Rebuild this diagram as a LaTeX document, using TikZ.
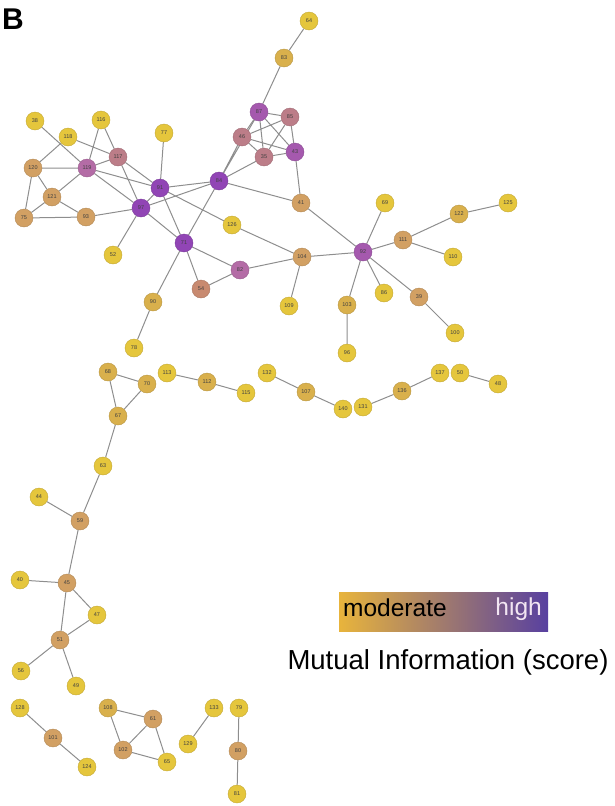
\documentclass[tikz,border=0pt]{standalone}
\usepackage{fontspec}
\setmainfont{Liberation Sans}
\usetikzlibrary{backgrounds}
\definecolor{mihigh}{HTML}{9145B5}
\definecolor{mimagenta}{HTML}{A559AE}
\definecolor{mipink}{HTML}{B46CA6}
\definecolor{mirose}{HTML}{BC7D88}
\definecolor{miclay}{HTML}{C88A70}
\definecolor{mitan}{HTML}{D2A063}
\definecolor{miochre}{HTML}{D9B04C}
\definecolor{miyellow}{HTML}{E5C63C}
\definecolor{edgegray}{HTML}{8E8E8E}
\definecolor{barlow}{HTML}{E8B43C}
\definecolor{barhigh}{HTML}{5840A0}

\begin{document}
\begin{tikzpicture}[x=1pt, y=-1pt,
    gnode/.style={circle, fill=#1, draw=#1!85!black, line width=0.4pt, minimum size=18pt,
      inner sep=0pt, font=\fontsize{5.5}{5.5}\selectfont, text=black!75},
    edge/.style={draw=edgegray, line width=1pt}]
      \useasboundingbox (0,0) rectangle (614,806);

      % Panel letter
      \node[anchor=base west, inner sep=0pt, font=\fontsize{30}{30}\selectfont\bfseries] (panel) at (2,29) {B};

      % Main component, upper cluster
      \node[gnode=miyellow] (v64) at (309,21) {64};
      \node[gnode=miochre] (v83) at (284,58) {83};
      \node[gnode=mimagenta] (v87) at (259,112) {87};
      \node[gnode=mirose] (v85) at (290,117) {85};
      \node[gnode=mirose] (v46) at (242,137) {46};
      \node[gnode=mirose] (v35) at (264,157) {35};
      \node[gnode=mimagenta] (v43) at (295,152) {43};
      \node[gnode=mihigh] (v84) at (219,181) {84};
      \node[gnode=mihigh] (v91) at (160,188) {91};
      \node[gnode=mihigh] (v97) at (141,208) {97};
      \node[gnode=mihigh] (v71) at (184,243) {71};
      \node[gnode=miyellow] (v38) at (35,121) {38};
      \node[gnode=miyellow] (v118) at (68,137) {118};
      \node[gnode=miyellow] (v116) at (101,120) {116};
      \node[gnode=miyellow] (v77) at (164,133) {77};
      \node[gnode=mirose] (v117) at (118,157) {117};
      \node[gnode=mitan] (v120) at (33,168) {120};
      \node[gnode=mipink] (v119) at (87,168) {119};
      \node[gnode=mitan] (v121) at (52,197) {121};
      \node[gnode=mitan] (v75) at (24,218) {75};
      \node[gnode=mitan] (v93) at (86,217) {93};
      \node[gnode=miyellow] (v126) at (232,225) {126};
      \node[gnode=miyellow] (v52) at (113,255) {52};
      \node[gnode=mitan] (v41) at (301,203) {41};
      \node[gnode=mitan] (v104) at (302,257) {104};
      \node[gnode=mipink] (v82) at (240,270) {82};
      \node[gnode=miclay] (v54) at (201,289) {54};
      \node[gnode=miyellow] (v109) at (289,306) {109};
      \node[gnode=mimagenta] (v92) at (363,252) {92};
      \node[gnode=miyellow] (v69) at (385,203) {69};
      \node[gnode=mitan] (v111) at (403,240) {111};
      \node[gnode=miochre] (v122) at (459,214) {122};
      \node[gnode=miyellow] (v125) at (508,203) {125};
      \node[gnode=miyellow] (v110) at (453,257) {110};
      \node[gnode=miyellow] (v86) at (384,293) {86};
      \node[gnode=mitan] (v39) at (419,297) {39};
      \node[gnode=miochre] (v103) at (347,305) {103};
      \node[gnode=miyellow] (v100) at (455,333) {100};
      \node[gnode=miyellow] (v96) at (347,353) {96};
      \node[gnode=miochre] (v90) at (153,302) {90};
      \node[gnode=miyellow] (v78) at (134,348) {78};

      % Chains in the middle
      \node[gnode=miochre] (v68) at (108,372) {68};
      \node[gnode=miochre] (v70) at (147,384) {70};
      \node[gnode=miochre] (v67) at (118,416) {67};
      \node[gnode=miyellow] (v113) at (167,373) {113};
      \node[gnode=miochre] (v112) at (207,382) {112};
      \node[gnode=miyellow] (v115) at (246,393) {115};
      \node[gnode=miyellow] (v132) at (267,373) {132};
      \node[gnode=miochre] (v107) at (306,392) {107};
      \node[gnode=miyellow] (v140) at (343,409) {140};
      \node[gnode=miyellow] (v131) at (363,407) {131};
      \node[gnode=miochre] (v136) at (402,391) {136};
      \node[gnode=miyellow] (v137) at (440,373) {137};
      \node[gnode=miyellow] (v50) at (460,373) {50};
      \node[gnode=miyellow] (v48) at (498,384) {48};
      \node[gnode=miyellow] (v63) at (103,466) {63};
      \node[gnode=miyellow] (v44) at (39,497) {44};
      \node[gnode=mitan] (v59) at (80,521) {59};
      \node[gnode=miyellow] (v40) at (20,580) {40};
      \node[gnode=mitan] (v45) at (67,583) {45};
      \node[gnode=miyellow] (v47) at (97,615) {47};
      \node[gnode=mitan] (v51) at (60,640) {51};
      \node[gnode=miyellow] (v56) at (21,671) {56};
      \node[gnode=miyellow] (v49) at (76,686) {49};

      % Small components at the bottom
      \node[gnode=miyellow] (v128) at (20,708) {128};
      \node[gnode=mitan] (v101) at (53,738) {101};
      \node[gnode=miyellow] (v124) at (87,767) {124};
      \node[gnode=miochre] (v108) at (108,708) {108};
      \node[gnode=mitan] (v61) at (153,719) {61};
      \node[gnode=mitan] (v102) at (123,750) {102};
      \node[gnode=miyellow] (v65) at (167,762) {65};
      \node[gnode=miyellow] (v133) at (214,708) {133};
      \node[gnode=miyellow] (v129) at (188,744) {129};
      \node[gnode=miyellow] (v79) at (239,708) {79};
      \node[gnode=mitan] (v80) at (238,751) {80};
      \node[gnode=miyellow] (v81) at (237,794) {81};

      % Edges behind the nodes
      \begin{scope}[on background layer]
        \draw[edge] (v64) -- (v83) (v83) -- (v87);
        \draw[edge] (v87) -- (v85) (v87) -- (v46) (v87) -- (v35) (v87) -- (v43)
          (v85) -- (v46) (v85) -- (v35) (v85) -- (v43) (v46) -- (v35) (v46) -- (v43) (v35) -- (v43);
        \draw[edge] (v84) -- (v87) (v84) -- (v46) (v84) -- (v35) (v43) -- (v41) (v84) -- (v41);
        \draw[edge] (v84) -- (v91) (v84) -- (v97) (v84) -- (v71);
        \draw[edge] (v38) -- (v119) (v118) -- (v117) (v118) -- (v120) (v116) -- (v117) (v116) -- (v119);
        \draw[edge] (v119) -- (v120) (v119) -- (v121) (v119) -- (v117) (v119) -- (v91) (v119) -- (v97);
        \draw[edge] (v117) -- (v91) (v117) -- (v97) (v77) -- (v91) (v91) -- (v97);
        \draw[edge] (v120) -- (v121) (v120) -- (v75) (v121) -- (v75) (v121) -- (v93) (v75) -- (v93) (v93) -- (v97);
        \draw[edge] (v91) -- (v71) (v91) -- (v126) (v97) -- (v71) (v97) -- (v52);
        \draw[edge] (v71) -- (v54) (v71) -- (v82) (v71) -- (v90) (v54) -- (v82) (v90) -- (v78);
        \draw[edge] (v82) -- (v104) (v126) -- (v104) (v104) -- (v109) (v104) -- (v92) (v41) -- (v92);
        \draw[edge] (v92) -- (v69) (v92) -- (v111) (v92) -- (v86) (v92) -- (v39) (v92) -- (v103);
        \draw[edge] (v111) -- (v122) (v111) -- (v110) (v122) -- (v125) (v39) -- (v100) (v103) -- (v96);
        \draw[edge] (v68) -- (v70) (v68) -- (v67) (v70) -- (v67) (v67) -- (v63) (v63) -- (v59)
          (v44) -- (v59) (v59) -- (v45) (v40) -- (v45) (v45) -- (v47) (v45) -- (v51)
          (v47) -- (v51) (v51) -- (v56) (v51) -- (v49);
        \draw[edge] (v113) -- (v112) (v112) -- (v115) (v132) -- (v107) (v107) -- (v140)
          (v131) -- (v136) (v136) -- (v137) (v50) -- (v48);
        \draw[edge] (v128) -- (v101) (v101) -- (v124) (v108) -- (v61) (v108) -- (v102)
          (v61) -- (v102) (v61) -- (v65) (v102) -- (v65) (v133) -- (v129) (v79) -- (v80) (v80) -- (v81);
      \end{scope}

      % Legend
      \shade[left color=barlow, right color=barhigh] (339,592) rectangle (548,631);
      \node[anchor=base west, inner sep=0pt, font=\fontsize{24.5}{24.5}\selectfont] (lgmod) at (343,616) {moderate};
      \node[anchor=base east, inner sep=0pt, text=white!90!violet, font=\fontsize{24.5}{24.5}\selectfont] (lghigh) at (542,615) {high};
      \node[anchor=base, inner sep=0pt, font=\fontsize{27.5}{27.5}\selectfont] (lgtitle) at (448,669) {Mutual Information (score)};
\end{tikzpicture}
\end{document}
